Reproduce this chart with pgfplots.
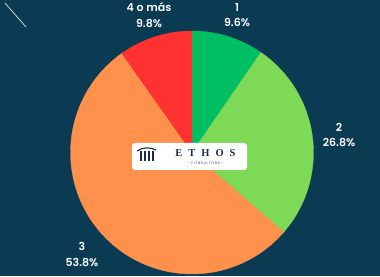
\documentclass[border=0pt]{standalone}
\usepackage{pgfplots}
\pgfplotsset{compat=1.18}
\usepackage{pgfplotstable}
\usepackage{fontspec}
\setmainfont{Poppins}[BoldFont={Poppins SemiBold}]
\newfontfamily\logoserif{Liberation Serif}
\definecolor{bg}{HTML}{0B3A53}
\definecolor{cA}{HTML}{00BF63}
\definecolor{cB}{HTML}{7ED957}
\definecolor{cC}{HTML}{FF914D}
\definecolor{cD}{HTML}{FF3131}
\definecolor{logonavy}{HTML}{1B2B4B}
\pgfplotstableread{
label pct
1 9.6
2 26.8
3 53.8
4 9.8
}\piedata
\pgfplotstablegetelem{0}{pct}\of\piedata \let\pA\pgfplotsretval
\pgfplotstablegetelem{1}{pct}\of\piedata \let\pB\pgfplotsretval
\pgfplotstablegetelem{2}{pct}\of\piedata \let\pC\pgfplotsretval
\pgfplotstablegetelem{3}{pct}\of\piedata \let\pD\pgfplotsretval
\pgfmathsetmacro\aA{90}
\pgfmathsetmacro\aB{\aA-3.6*\pA}
\pgfmathsetmacro\aC{\aB-3.6*\pB}
\pgfmathsetmacro\aD{\aC-3.6*\pC}
\pgfmathsetmacro\aE{\aD-3.6*\pD}
\begin{document}
\begin{tikzpicture}
\begin{axis}[
  hide axis, scale only axis,
  width=380pt, height=276pt,
  xmin=0, xmax=380, ymin=-276, ymax=0,
  clip=true,
]
\fill[bg] (axis cs:0,-276) rectangle (axis cs:380,0);
\addplot[fill=cA, draw=cA, line width=0.3pt, domain=\aB:\aA, samples=40, variable=\t]
  ({192+121.5*cos(\t)},{-152.5+121.5*sin(\t)}) -- (axis cs:192,-152.5) -- cycle;
\addplot[fill=cB, draw=cB, line width=0.3pt, domain=\aC:\aB, samples=80, variable=\t]
  ({192+121.5*cos(\t)},{-152.5+121.5*sin(\t)}) -- (axis cs:192,-152.5) -- cycle;
\addplot[fill=cC, draw=cC, line width=0.3pt, domain=\aD:\aC, samples=120, variable=\t]
  ({192+121.5*cos(\t)},{-152.5+121.5*sin(\t)}) -- (axis cs:192,-152.5) -- cycle;
\addplot[fill=cD, draw=cD, line width=0.3pt, domain=\aE:\aD, samples=40, variable=\t]
  ({192+121.5*cos(\t)},{-152.5+121.5*sin(\t)}) -- (axis cs:192,-152.5) -- cycle;
% decorative line
\draw[white, line width=0.6pt] (axis cs:5,-3) -- (axis cs:26,-27);
% labels
\begin{scope}[every node/.style={text=white, align=center, font=\fontsize{11}{15.5}\selectfont\bfseries}]
\node at (axis cs:149,-15) {4 o más\\9.8\%};
\node at (axis cs:237,-15) {1\\9.6\%};
\node at (axis cs:339,-135) {2\\26.8\%};
\node at (axis cs:82,-254.5) {3\\53.8\%};
\end{scope}
% logo
\fill[white, rounded corners=3pt] (axis cs:132,-143) rectangle (axis cs:247,-170);
\draw[logonavy, line width=1.1pt] (axis cs:137,-151) .. controls (axis cs:143,-147) and (axis cs:150,-147) .. (axis cs:156,-150);
\draw[logonavy, line width=1.2pt] (axis cs:141,-151.5) -- (axis cs:141,-161);
\draw[logonavy, line width=1.2pt] (axis cs:145,-151.5) -- (axis cs:145,-161);
\draw[logonavy, line width=1.2pt] (axis cs:149,-151.5) -- (axis cs:149,-161);
\draw[logonavy, line width=1.2pt] (axis cs:153,-151.5) -- (axis cs:153,-161);
\node[text=logonavy, font=\logoserif\fontsize{10.5}{10}\selectfont\bfseries] at (axis cs:205.5,-153.5) {E\hspace{6pt}T\hspace{6pt}H\hspace{6pt}O\hspace{6pt}S};
\node[text=logonavy!80, font=\fontsize{3.6}{4}\selectfont] at (axis cs:205.5,-163) {- C\,O\,N\,S\,U\,L\,T\,O\,R\,A -};
\end{axis}
\end{tikzpicture}
\end{document}
